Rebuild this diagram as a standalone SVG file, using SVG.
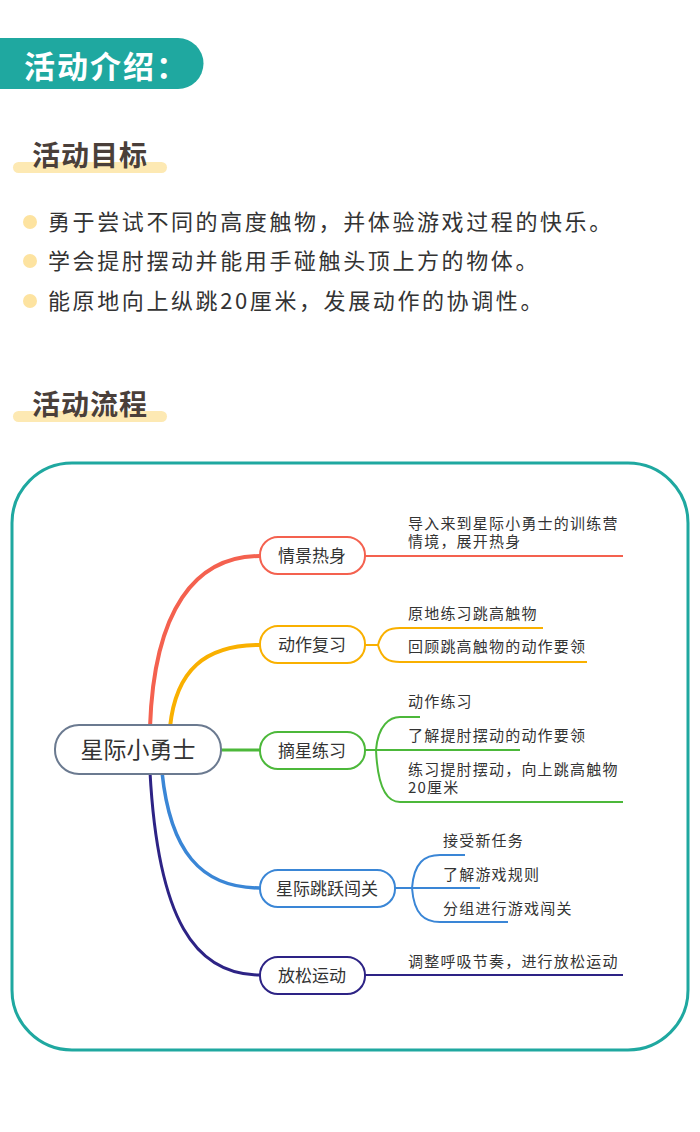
<svg xmlns="http://www.w3.org/2000/svg" width="700" height="1132" viewBox="0 0 700 1132">
<style>
text{font-family:"Noto Sans CJK SC","Liberation Sans",sans-serif;fill:#333}
.h{font-size:28px;font-weight:bold;fill:#4a3f3a;letter-spacing:1px}
.b{font-size:22px;letter-spacing:2.6px}
.n{font-size:17px;text-anchor:middle}
.l{font-size:15px;letter-spacing:1.2px}
.node{fill:#fff;stroke-width:2}
.c{fill:none;stroke-width:2}
</style>
<rect width="700" height="1132" fill="#fff"/>
<path d="M0,38 H178 A25.5,25.5 0 0 1 178,89 H0 Z" fill="#1fa8a0"/>
<text x="24" y="78" style="font-size:31px;font-weight:bold;fill:#fff;letter-spacing:2px">活动介绍：</text>
<rect x="13" y="162" width="154" height="11" rx="5.5" fill="#fde9b3"/>
<text class="h" x="32" y="166">活动目标</text>
<g fill="#fde3a0"><circle cx="30" cy="222" r="7"/><circle cx="30" cy="261" r="7"/><circle cx="30" cy="301" r="7"/></g>
<text class="b" x="48" y="230">勇于尝试不同的高度触物，并体验游戏过程的快乐。</text>
<text class="b" x="48" y="269">学会提肘摆动并能用手碰触头顶上方的物体。</text>
<text class="b" x="48" y="309">能原地向上纵跳20厘米，发展动作的协调性。</text>
<rect x="13" y="411" width="154" height="11" rx="5.5" fill="#fde9b3"/>
<text class="h" x="32" y="415">活动流程</text>
<rect x="12" y="463" width="676" height="587" rx="60" fill="#fff" stroke="#1fa8a0" stroke-width="3"/>
<g id="connectors">
<path d="M150,727 C154,610 195,556 260,556" fill="none" stroke="#f4614f" stroke-width="4"/>
<path d="M170,727 C176,670 205,645 260,645" fill="none" stroke="#f9b000" stroke-width="4"/>
<path d="M221,750 H260" fill="none" stroke="#4cb83a" stroke-width="3"/>
<path d="M162,772 C170,850 200,888 260,888" fill="none" stroke="#3a86d6" stroke-width="3.5"/>
<path d="M150,772 C158,920 195,975 260,975" fill="none" stroke="#2d2385" stroke-width="3"/>
<path class="c" stroke="#f4614f" d="M365,556 H623"/>
<path class="c" stroke="#f9b000" d="M365,645 H378 C382,630 390,628 400,628 H543 M378,645 C382,660 390,662 400,662 H587"/>
<path class="c" stroke="#4cb83a" d="M365,750 H376 C378,725 390,717 400,717 H420 M376,750 H520 M376,750 C378,795 390,802 400,802 H623"/>
<path class="c" stroke="#3a86d6" d="M395,888 H412 C414,862 425,855 440,855 H465 M412,888 H480 M412,888 C414,915 425,922 440,922 H508"/>
<path class="c" stroke="#2d2385" d="M365,975 H623"/>
</g>
<g id="root"><rect class="node" x="55" y="725" width="166" height="49" rx="24" stroke="#6b7a90"/><text x="138" y="758" style="font-size:23px;text-anchor:middle">星际小勇士</text></g>
<g id="n1"><rect class="node" x="260" y="537" width="105" height="37" rx="18" stroke="#f4614f"/><text class="n" x="312" y="562">情景热身</text></g>
<g id="n2"><rect class="node" x="260" y="626" width="105" height="37" rx="18" stroke="#f9b000"/><text class="n" x="312" y="651">动作复习</text></g>
<g id="n3"><rect class="node" x="260" y="732" width="105" height="37" rx="18" stroke="#4cb83a"/><text class="n" x="312" y="757">摘星练习</text></g>
<g id="n4"><rect class="node" x="260" y="870" width="135" height="37" rx="18" stroke="#3a86d6"/><text class="n" x="327" y="895">星际跳跃闯关</text></g>
<g id="n5"><rect class="node" x="260" y="957" width="105" height="37" rx="18" stroke="#2d2385"/><text class="n" x="312" y="982">放松运动</text></g>
<g id="leaves">
<text class="l" x="408" y="529">导入来到星际小勇士的训练营</text>
<text class="l" x="408" y="547">情境，展开热身</text>
<text class="l" x="408" y="619">原地练习跳高触物</text>
<text class="l" x="408" y="652">回顾跳高触物的动作要领</text>
<text class="l" x="408" y="707">动作练习</text>
<text class="l" x="408" y="741">了解提肘摆动的动作要领</text>
<text class="l" x="408" y="775">练习提肘摆动，向上跳高触物</text>
<text class="l" x="408" y="793">20厘米</text>
<text class="l" x="443" y="846">接受新任务</text>
<text class="l" x="443" y="880">了解游戏规则</text>
<text class="l" x="443" y="914">分组进行游戏闯关</text>
<text class="l" x="408" y="967">调整呼吸节奏，进行放松运动</text>
</g>
</svg>
